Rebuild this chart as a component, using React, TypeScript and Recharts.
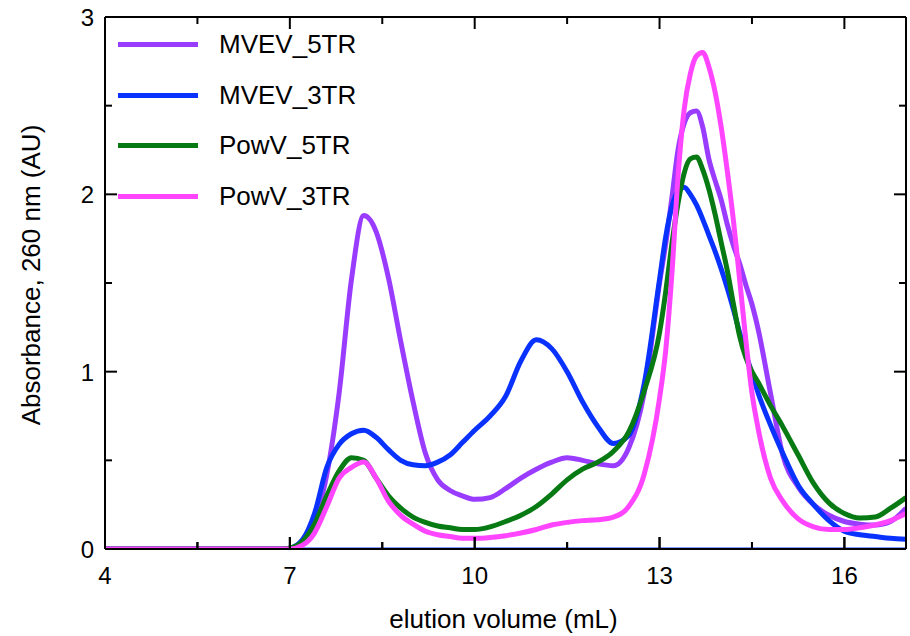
import React from 'react';
import { LineChart, Line, XAxis, YAxis, Legend } from 'recharts';

// elution volume (mL) sample points
const elution = [
  4, 5, 6, 6.8,
  7.0, 7.2, 7.4, 7.6, 7.8, 8.0, 8.2, 8.4, 8.6, 8.8, 9.0, 9.2, 9.4, 9.6, 9.8,
  10.0, 10.25, 10.5, 10.75, 11.0, 11.25, 11.5, 11.75, 12.0, 12.25, 12.5, 12.75, 13.0,
  13.1, 13.2, 13.3, 13.4, 13.5, 13.6, 13.7, 13.8, 13.9, 14.0, 14.1, 14.2, 14.3, 14.4, 14.5, 14.6,
  14.8, 15.0, 15.25, 15.5, 15.75, 16.0, 16.25, 16.5, 16.75, 17.0,
];

const mvev5tr = [
  0, 0, 0, 0,
  0.005, 0.04, 0.16, 0.42, 0.88, 1.52, 1.88, 1.79, 1.53, 1.17, 0.83, 0.54, 0.39, 0.33, 0.3,
  0.28, 0.29, 0.34, 0.4, 0.45, 0.49, 0.515, 0.5, 0.48, 0.47, 0.57, 0.88, 1.5,
  1.72, 1.98, 2.25, 2.4, 2.46, 2.47, 2.38, 2.2, 2.08, 1.97, 1.83, 1.71, 1.61, 1.49, 1.38, 1.24,
  0.88, 0.53, 0.35, 0.25, 0.19, 0.155, 0.14, 0.135, 0.155, 0.23,
];

const mvev3tr = [
  0, 0, 0, 0,
  0.005, 0.05, 0.2, 0.46, 0.59, 0.65, 0.67, 0.63, 0.56, 0.5, 0.475, 0.47, 0.49, 0.53, 0.6,
  0.67, 0.75, 0.86, 1.06, 1.18, 1.13, 1.0, 0.83, 0.69, 0.595, 0.64, 0.93, 1.52,
  1.76, 1.93, 2.02, 2.04, 2.0, 1.94, 1.86, 1.77, 1.68, 1.58, 1.47, 1.35, 1.22, 1.1, 0.99, 0.88,
  0.7, 0.54, 0.36, 0.25, 0.16, 0.1, 0.08, 0.07, 0.06, 0.055,
];

const powv5tr = [
  0, 0, 0, 0,
  0.005, 0.04, 0.14, 0.3, 0.44, 0.515, 0.5, 0.4, 0.3, 0.23, 0.18, 0.15, 0.13, 0.12, 0.11,
  0.11, 0.125, 0.155, 0.19, 0.24, 0.31, 0.39, 0.45, 0.49, 0.55, 0.66, 0.89, 1.22,
  1.45, 1.72, 1.95, 2.12, 2.2, 2.21, 2.14, 2.03, 1.89, 1.73, 1.57, 1.38, 1.2, 1.08, 1.0, 0.94,
  0.81, 0.69, 0.53, 0.37, 0.26, 0.2, 0.175, 0.18, 0.23, 0.29,
];

const powv3tr = [
  0, 0, 0, 0,
  0, 0.02, 0.09, 0.24, 0.4, 0.46, 0.49, 0.4, 0.27, 0.19, 0.14, 0.1, 0.08, 0.07, 0.06,
  0.06, 0.065, 0.075, 0.09, 0.11, 0.135, 0.15, 0.16, 0.165, 0.18, 0.24, 0.42, 0.85,
  1.12, 1.55, 2.1, 2.48, 2.68, 2.78, 2.8, 2.72, 2.58, 2.38, 2.13, 1.85, 1.52, 1.18, 0.88, 0.68,
  0.4, 0.27, 0.17, 0.125, 0.11, 0.11, 0.12, 0.135, 0.16, 0.2,
];

const xTicks = [4, 5.5, 7, 8.5, 10, 11.5, 13, 14.5, 16];
const yTicks = [0, 0.5, 1, 1.5, 2, 2.5, 3];
const xDomain = [4, 17];

const series = [
  { key: 'mvev5tr', name: 'MVEV_5TR', color: '#9a3cff' },
  { key: 'mvev3tr', name: 'MVEV_3TR', color: '#0a32ff' },
  { key: 'powv5tr', name: 'PowV_5TR', color: '#087a14' },
  { key: 'powv3tr', name: 'PowV_3TR', color: '#ff45ff' },
];

const data = elution.map((x, i) => ({
  x,
  mvev5tr: mvev5tr[i],
  mvev3tr: mvev3tr[i],
  powv5tr: powv5tr[i],
  powv3tr: powv3tr[i],
}));

const FONT = '"Liberation Sans", Arial, Helvetica, sans-serif';
const W = 910;
const H = 636;
const MAJOR = 12;
const MINOR = 7;
const MARGIN = { top: 16, right: 3, bottom: 47, left: 45 };
// plot box that follows from the margins and axis sizes below
const PLOT = { left: 105, right: 906, top: 17, bottom: 549 };

const tickLen = (v: number) => (Number.isInteger(v) ? MAJOR : MINOR);

const BottomTick = (props: any) => {
  const { x, y, payload } = props;
  const len = tickLen(payload.value);
  return (
    <g>
      <line x1={x} x2={x} y1={y} y2={y - len} stroke="#000" strokeWidth={2} />
      {len === MAJOR && (
        <text x={x} y={y + 35} textAnchor="middle" fontSize={24} fontFamily={FONT} fill="#000">
          {payload.value}
        </text>
      )}
    </g>
  );
};

const LeftTick = (props: any) => {
  const { x, y, payload } = props;
  const len = tickLen(payload.value);
  return (
    <g>
      <line x1={x} x2={x + len} y1={y} y2={y} stroke="#000" strokeWidth={2} />
      {len === MAJOR && (
        <text x={x - 11} y={y + 9} textAnchor="end" fontSize={24} fontFamily={FONT} fill="#000">
          {payload.value}
        </text>
      )}
    </g>
  );
};

const RightTick = (props: any) => {
  const { x, y, payload } = props;
  const len = tickLen(payload.value);
  return <line x1={x} x2={x - len} y1={y} y2={y} stroke="#000" strokeWidth={2} />;
};

// inward x ticks on the top and bottom frame, laid over the chart
const FrameTicks = () => {
  const span = xDomain[1] - xDomain[0];
  const toPx = (v: number) => PLOT.left + ((v - xDomain[0]) / span) * (PLOT.right - PLOT.left);
  return (
    <svg
      width={W}
      height={H}
      style={{ position: 'absolute', left: 0, top: 0, pointerEvents: 'none' }}
    >
      {xTicks.map((v) => (
        <g key={v}>
          <line x1={toPx(v)} x2={toPx(v)} y1={PLOT.top} y2={PLOT.top + tickLen(v)} stroke="#000" strokeWidth={2} />
          <line x1={toPx(v)} x2={toPx(v)} y1={PLOT.bottom} y2={PLOT.bottom - tickLen(v)} stroke="#000" strokeWidth={2} />
        </g>
      ))}
    </svg>
  );
};

const LegendBox = () => (
  <div style={{ fontFamily: FONT, fontSize: 26, color: '#000' }}>
    {series.map((s) => (
      <div key={s.key} style={{ display: 'flex', alignItems: 'center', height: 50.7 }}>
        <div style={{ width: 80, height: 5, background: s.color, marginRight: 21 }} />
        <span>{s.name}</span>
      </div>
    ))}
  </div>
);

const axisLine = { stroke: '#000', strokeWidth: 2 };

export default function App() {
  return (
    <div style={{ position: 'absolute', left: 0, top: 0, width: W, height: H, background: '#fff' }}>
      <LineChart width={W} height={H} data={data} margin={MARGIN}>
        <XAxis
          dataKey="x"
          type="number"
          domain={xDomain}
          ticks={xTicks}
          interval={0}
          height={40}
          tickSize={0}
          tickMargin={0}
          tickLine={false}
          axisLine={axisLine}
          tick={<BottomTick />}
          allowDataOverflow
          label={{
            position: 'bottom',
            content: (p: any) => (
              <text
                x={p.viewBox.x + p.viewBox.width / 2 - 2}
                y={p.viewBox.y + 79}
                textAnchor="middle"
                fontSize={26}
                fontFamily={FONT}
                fill="#000"
              >
                elution volume (mL)
              </text>
            ),
          }}
        />
        <XAxis
          xAxisId="top"
          dataKey="x"
          orientation="top"
          type="number"
          domain={xDomain}
          height={1}
          tick={false}
          tickLine={false}
          axisLine={axisLine}
          allowDataOverflow
        />
        <YAxis
          type="number"
          domain={[0, 3]}
          ticks={yTicks}
          interval={0}
          width={60}
          tickSize={0}
          tickMargin={0}
          tickLine={false}
          axisLine={axisLine}
          tick={<LeftTick />}
          allowDataOverflow
          label={{
            position: 'left',
            content: (p: any) => {
              const cx = p.viewBox.x + p.viewBox.width - 74;
              const cy = p.viewBox.y + p.viewBox.height / 2 - 8;
              return (
                <text
                  x={cx}
                  y={cy}
                  transform={`rotate(-90 ${cx} ${cy})`}
                  textAnchor="middle"
                  dominantBaseline="central"
                  fontSize={26}
                  fontFamily={FONT}
                  fill="#000"
                >
                  Absorbance, 260 nm (AU)
                </text>
              );
            },
          }}
        />
        <YAxis
          yAxisId="right"
          orientation="right"
          type="number"
          domain={[0, 3]}
          ticks={yTicks}
          interval={0}
          width={1}
          tickSize={0}
          tickMargin={0}
          tickLine={false}
          axisLine={axisLine}
          tick={<RightTick />}
          allowDataOverflow
        />
        <Legend
          layout="vertical"
          align="center"
          verticalAlign="middle"
          content={<LegendBox />}
          wrapperStyle={{ left: 118, top: 19, width: 300, height: 210 }}
        />
        {/* flat blue trace along the baseline, also anchoring the top axis */}
        <Line
          xAxisId="top"
          dataKey={() => 0}
          stroke="#0a32ff"
          strokeWidth={3}
          dot={false}
          activeDot={false}
          legendType="none"
          isAnimationActive={false}
        />
        {series.map((s) => (
          <Line
            key={s.key}
            type="monotone"
            dataKey={s.key}
            name={s.name}
            stroke={s.color}
            strokeWidth={5}
            dot={false}
            activeDot={false}
            isAnimationActive={false}
          />
        ))}
      </LineChart>
      <FrameTicks />
    </div>
  );
}
